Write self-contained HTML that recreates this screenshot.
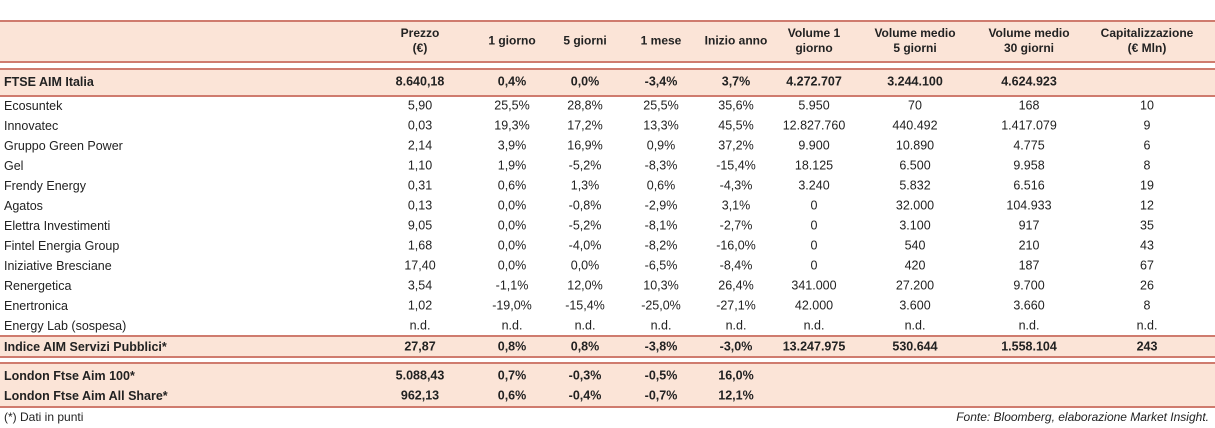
<!DOCTYPE html>
<html><head><meta charset="utf-8">
<style>
body{margin:0;width:1215px;height:428px;background:#fff;font-family:"Liberation Sans",sans-serif;color:#222;position:relative;overflow:hidden}
.band{position:absolute;left:0;width:1215px;background:#FBE4D7}
.ln{position:absolute;left:0;width:1215px;height:2px;background:#CF7B6E}
.c{position:absolute;white-space:nowrap;font-size:12.5px;transform:translate(-50%,-50%);text-align:center;line-height:15px}
.l{position:absolute;white-space:nowrap;font-size:12.5px;transform:translateY(-50%);left:4px}
.b{font-weight:bold}
.h{font-weight:bold;font-size:12px}
</style></head><body>
<div class="band" style="top:21px;height:41px"></div>
<div class="band" style="top:69px;height:27px"></div>
<div class="band" style="top:336px;height:21px"></div>
<div class="band" style="top:363px;height:43px"></div>
<div class="ln" style="top:20px"></div>
<div class="ln" style="top:61px"></div>
<div class="ln" style="top:68px"></div>
<div class="ln" style="top:95px"></div>
<div class="ln" style="top:335px"></div>
<div class="ln" style="top:356px"></div>
<div class="ln" style="top:362px"></div>
<div class="ln" style="top:406px"></div>
<div class="l" style="top:417px;font-size:12px">(*) Dati in punti</div>
<div class="l" style="top:417px;left:auto;right:6px;font-size:12px;font-style:italic">Fonte: Bloomberg, elaborazione Market Insight.</div>
<div id="t"></div>
<script>
const cx=[420,512,585,661,736,814,915,1029,1147];
const headers=[["Prezzo","(€)"],["1 giorno"],["5 giorni"],["1 mese"],["Inizio anno"],["Volume 1","giorno"],["Volume medio","5 giorni"],["Volume medio","30 giorni"],["Capitalizzazione","(€ Mln)"]];
const rows=[
["FTSE AIM Italia","8.640,18","0,4%","0,0%","-3,4%","3,7%","4.272.707","3.244.100","4.624.923",""],
["Ecosuntek","5,90","25,5%","28,8%","25,5%","35,6%","5.950","70","168","10"],
["Innovatec","0,03","19,3%","17,2%","13,3%","45,5%","12.827.760","440.492","1.417.079","9"],
["Gruppo Green Power","2,14","3,9%","16,9%","0,9%","37,2%","9.900","10.890","4.775","6"],
["Gel","1,10","1,9%","-5,2%","-8,3%","-15,4%","18.125","6.500","9.958","8"],
["Frendy Energy","0,31","0,6%","1,3%","0,6%","-4,3%","3.240","5.832","6.516","19"],
["Agatos","0,13","0,0%","-0,8%","-2,9%","3,1%","0","32.000","104.933","12"],
["Elettra Investimenti","9,05","0,0%","-5,2%","-8,1%","-2,7%","0","3.100","917","35"],
["Fintel Energia Group","1,68","0,0%","-4,0%","-8,2%","-16,0%","0","540","210","43"],
["Iniziative Bresciane","17,40","0,0%","0,0%","-6,5%","-8,4%","0","420","187","67"],
["Renergetica","3,54","-1,1%","12,0%","10,3%","26,4%","341.000","27.200","9.700","26"],
["Enertronica","1,02","-19,0%","-15,4%","-25,0%","-27,1%","42.000","3.600","3.660","8"],
["Energy Lab (sospesa)","n.d.","n.d.","n.d.","n.d.","n.d.","n.d.","n.d.","n.d.","n.d."],
["Indice AIM Servizi Pubblici*","27,87","0,8%","0,8%","-3,8%","-3,0%","13.247.975","530.644","1.558.104","243"],
["London Ftse Aim 100*","5.088,43","0,7%","-0,3%","-0,5%","16,0%","","","",""],
["London Ftse Aim All Share*","962,13","0,6%","-0,4%","-0,7%","12,1%","","","",""]];
const rowY=[82,106,126,146,166,186,206,226,246,266,286,306,326,347,376,396];
const bold=[true,false,false,false,false,false,false,false,false,false,false,false,false,true,true,true];
const t=document.getElementById('t');
headers.forEach((h,i)=>{const d=document.createElement('div');d.className='c h';d.style.left=cx[i]+'px';d.style.top='41px';d.innerHTML=h.join('<br>');


t.appendChild(d);});
rows.forEach((r,ri)=>{r.forEach((v,ci)=>{if(v==='')return;const d=document.createElement('div');
d.className=(ci===0?'l':'c')+(bold[ri]?' b':'');d.style.top=rowY[ri]+'px';if(ci>0)d.style.left=cx[ci-1]+'px';d.textContent=v;


t.appendChild(d);});});
</script>
</body></html>
